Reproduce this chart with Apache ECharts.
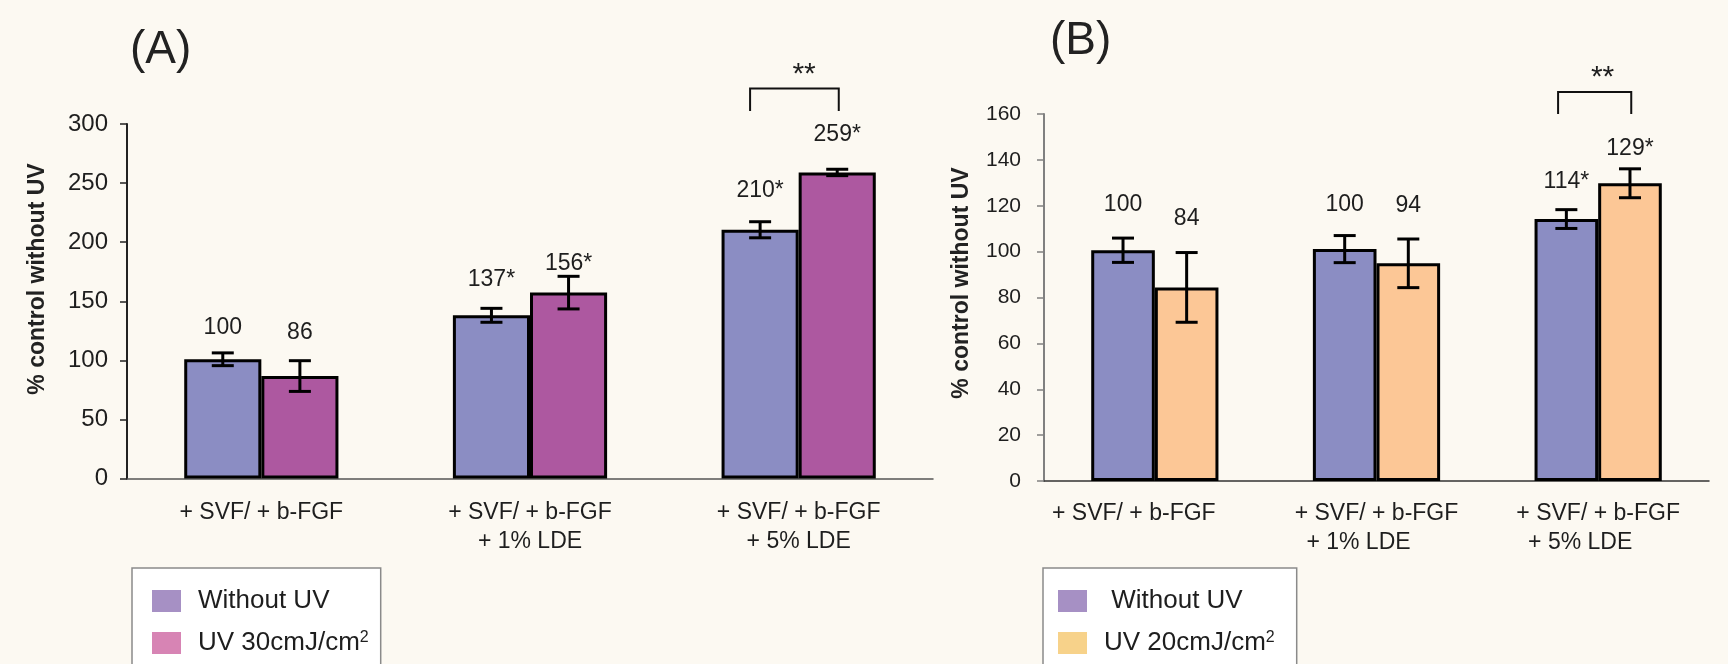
<!DOCTYPE html>
<html><head><meta charset="utf-8">
<script src="https://cdn.jsdelivr.net/npm/echarts@6/dist/echarts.min.js"></script>
<style>html,body{margin:0;padding:0;background:#FCF9F2;}#c{width:1728px;height:664px;}</style>
</head><body><div id="c"></div>
<script>
// ---------------- DATA ----------------
const categories = ['+ SVF/ + b-FGF', '+ SVF/ + b-FGF\n+ 1% LDE', '+ SVF/ + b-FGF\n+ 5% LDE'];
const nameWithout = 'Without UV';
const nameUV30 = 'UV 30cmJ/cm²';
const nameUV20 = 'UV 20cmJ/cm²';
// Panel A
const aWithout = [100.9, 138.1, 210.5];
const aWithoutErr = [5.4, 5.9, 6.8];
const aUV30 = [86.7, 157.3, 259];
const aUV30Err = [13, 13.8, 2.7];
const aWithoutLabels = ['100', '137*', '210*'];
const aUV30Labels = ['86', '156*', '259*'];
const aAxis = {min: 0, max: 300, interval: 50};
const aSig = [[2, 311, 330, '**']];
// Panel B
const bWithout = [100.6, 101.1, 114.2];
const bWithoutErr = [5.3, 5.9, 4.1];
const bUV20 = [84.4, 94.9, 129.8];
const bUV20Err = [15.2, 10.6, 6.3];
const bWithoutLabels = ['100', '100', '114*'];
const bUV20Labels = ['84', '94', '129*'];
const bAxis = {min: 0, max: 160, interval: 20};
const bSig = [[2, 160, 169.6, '**']];

// ---------------- STYLE / LAYOUT ----------------
const FONT = '"Liberation Sans", Arial, sans-serif';
const TXT = '#1e1e1e';
const BAR_FRAC = 0.287;
const liftA = [[25, 29, 31], [28, 13, 35]];
const liftB = [[33, 31, 28], [34, 33, 20]];

const chart = echarts.init(document.getElementById('c'), null, {renderer: 'canvas'});

function errSeries(ax, vals, errs, side, labels, lifts) {
  return {
    type: 'custom', xAxisIndex: ax, yAxisIndex: ax, silent: true, z: 5, clip: false,
    data: vals.map((v, i) => [i, v, errs[i]]),
    encode: {x: 0, y: 1},
    renderItem(params, api) {
      const i = api.value(0), v = api.value(1), e = api.value(2);
      const c = api.coord([i, v]);
      const bw = api.size([1, 0])[0] * BAR_FRAC;
      const x = c[0] + side * bw / 2;
      const top = api.coord([i, v + e])[1], bot = api.coord([i, v - e])[1];
      const cap = 11, st = {stroke: '#000', lineWidth: 3};
      return {type: 'group', children: [
        {type: 'line', shape: {x1: x, y1: top, x2: x, y2: bot}, style: st},
        {type: 'line', shape: {x1: x - cap, y1: top, x2: x + cap, y2: top}, style: st},
        {type: 'line', shape: {x1: x - cap, y1: bot, x2: x + cap, y2: bot}, style: st},
        {type: 'text', style: {text: labels[i], x: x, y: top - lifts[i], align: 'center', verticalAlign: 'middle',
          font: '23px ' + FONT, fill: TXT}}
      ]};
    }
  };
}
function sigSeries(ax, data) {
  return {
    type: 'custom', xAxisIndex: ax, yAxisIndex: ax, silent: true, z: 5, clip: false,
    data: data, encode: {x: 0, y: 1},
    renderItem(params, api) {
      const i = api.value(0);
      const c = api.coord([i, api.value(2)]);
      const yl = api.coord([i, api.value(1)])[1];
      const bw = api.size([1, 0])[0] * BAR_FRAC;
      const xl = c[0] - 0.63 * bw, xr = c[0] + 0.52 * bw;
      const st = {stroke: '#111', lineWidth: 2};
      return {type: 'group', children: [
        {type: 'polyline', shape: {points: [[xl, yl], [xl, c[1]], [xr, c[1]], [xr, yl]]}, style: Object.assign({fill: null}, st)},
        {type: 'text', style: {text: data[params.dataIndex][3], x: c[0] + 0.07 * bw, y: c[1] - 14, align: 'center', verticalAlign: 'middle',
          font: '30px ' + FONT, fill: TXT}}
      ]};
    }
  };
}
function barSeries(ax, name, vals, color) {
  return {
    type: 'bar', name: name, xAxisIndex: ax, yAxisIndex: ax, data: vals,
    barWidth: (BAR_FRAC * 100) + '%', barGap: '0%',
    itemStyle: {color: color, borderColor: '#000', borderWidth: 3},
    silent: true
  };
}
function catAxis(gi, margin, rich) {
  return {
    type: 'category', gridIndex: gi, data: categories,
    axisLine: {lineStyle: {color: gi === 0 ? '#555' : '#333', width: 1.5}},
    axisTick: {length: 7, lineStyle: {color: gi === 0 ? '#555' : '#333', width: 1.5}},
    axisLabel: {margin: margin, color: TXT, fontFamily: FONT, fontSize: 23, lineHeight: 29, interval: 0,
      formatter: rich ? ((v, idx) => {
        const parts = v.split('\n');
        if (idx === 0) return '{s|' + parts[0] + '}';
        return parts[0] + '\n{l2|' + parts[1] + '}';
      }) : null,
      rich: rich ? {s: {fontSize: 23, fontFamily: FONT, color: TXT, padding: [0, 42, 0, 0]},
                    l2: {fontSize: 23, fontFamily: FONT, color: TXT, padding: [0, 36, 0, 0]}} : undefined}
  };
}
function valAxis(gi, ax, col, margin, fs) {
  return {
    type: 'value', gridIndex: gi, min: ax.min, max: ax.max, interval: ax.interval,
    splitLine: {show: false},
    axisLine: {show: true, lineStyle: {color: col, width: 2}},
    axisTick: {show: true, length: 7, lineStyle: {color: col, width: 1.5}},
    axisLabel: {margin: margin, color: TXT, fontFamily: FONT, fontSize: fs}
  };
}
const supRich = {sup: {fontSize: 16, fontFamily: FONT, color: TXT, padding: [0, 0, 10, 0]}};
function legend(left, pad, items, lead) {
  return {
    orient: 'vertical', left: left, top: 568, height: 140, padding: pad,
    backgroundColor: '#ffffff', borderColor: '#8a8a8a', borderWidth: 1.5, borderRadius: 0,
    itemWidth: 29, itemHeight: 22, itemGap: 16, icon: 'rect', selectedMode: false,
    data: items.map(it => ({name: it[0], itemStyle: {color: it[1], borderWidth: 0}})),
    formatter: n => (n === nameWithout ? lead : '') + n.replace('²', '{sup|2}'),
    textStyle: {fontFamily: FONT, fontSize: 26, color: TXT, padding: [0, 0, 0, 12], rich: supRich}
  };
}

const option = {
  backgroundColor: '#FCF9F2',
  animation: false,
  grid: [
    {left: 127, right: 795, top: 124, bottom: 185.5},
    {left: 1044, right: 19, top: 114, bottom: 183}
  ],
  xAxis: [catAxis(0, 20, false), catAxis(1, 18, true)],
  yAxis: [valAxis(0, aAxis, '#222', 19, 24), valAxis(1, bAxis, '#808080', 23, 21)],
  legend: [
    legend(132, [20, 12, 40, 20], [[nameWithout, '#A690C4'], [nameUV30, '#D784B4']], ''),
    legend(1043, [20, 22, 40, 15], [[nameWithout, '#A690C4'], [nameUV20, '#F7D28A']], ' ')
  ],
  graphic: [
    {type: 'text', left: 130, top: 27, style: {text: '(A)', font: '46px ' + FONT, fill: '#222'}},
    {type: 'text', left: 1050, top: 18, style: {text: '(B)', font: '46px ' + FONT, fill: '#222'}},
    {type: 'text', x: 38, y: 279, rotation: Math.PI / 2,
      style: {text: '% control without UV', font: 'bold 23px ' + FONT, fill: '#222', align: 'center', verticalAlign: 'middle'}},
    {type: 'text', x: 962, y: 283, rotation: Math.PI / 2,
      style: {text: '% control without UV', font: 'bold 23px ' + FONT, fill: '#222', align: 'center', verticalAlign: 'middle'}}
  ],
  series: [
    barSeries(0, nameWithout, aWithout, '#8B8DC3'),
    barSeries(0, nameUV30, aUV30, '#AD58A0'),
    barSeries(1, nameWithout, bWithout, '#8B8DC3'),
    barSeries(1, nameUV20, bUV20, '#FCC796'),
    errSeries(0, aWithout, aWithoutErr, -1, aWithoutLabels, liftA[0]),
    errSeries(0, aUV30, aUV30Err, 1, aUV30Labels, liftA[1]),
    errSeries(1, bWithout, bWithoutErr, -1, bWithoutLabels, liftB[0]),
    errSeries(1, bUV20, bUV20Err, 1, bUV20Labels, liftB[1]),
    sigSeries(0, aSig),
    sigSeries(1, bSig)
  ]
};
chart.setOption(option);
</script></body></html>
